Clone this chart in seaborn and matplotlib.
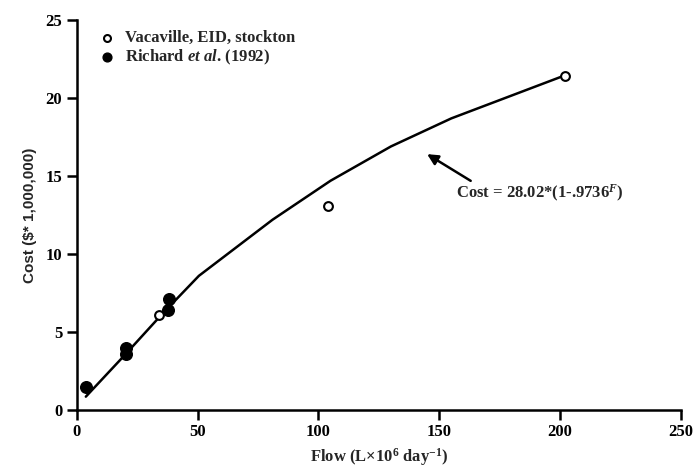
import numpy as np
import pandas as pd
import matplotlib
matplotlib.use("Agg")
import matplotlib.pyplot as plt
import seaborn as sns

# Data
vaca_flow = [34, 104, 202]
vaca_cost = [6.1, 13.1, 21.4]

richard_flow = [3.8, 20.5, 20.3, 37.8, 38.1]
richard_cost = [1.45, 4.0, 3.6, 6.4, 7.1]

# fitted curve
fit_flow = [3.7, 20, 35, 50.5, 81, 105, 130, 155, 201]
fit_cost = [0.85, 3.55, 6.1, 8.6, 12.2, 14.7, 16.9, 18.7, 21.4]

x_ticks = [0, 50, 100, 150, 200, 250]
y_ticks = [0, 5, 10, 15, 20, 25]

sns.set_style("ticks")
plt.rcParams['font.family'] = ['Liberation Serif', 'DejaVu Serif']
plt.rcParams['mathtext.fontset'] = 'custom'
plt.rcParams['mathtext.rm'] = 'Liberation Serif:bold'
plt.rcParams['mathtext.it'] = 'Liberation Serif:italic:bold'
plt.rcParams['mathtext.bf'] = 'Liberation Serif:bold'

fig = plt.figure(figsize=(6.99, 4.69), dpi=100)
ax = fig.add_axes([0.110, 0.126, 0.864, 0.831])

fit_df = pd.DataFrame({"flow": fit_flow, "cost": fit_cost})
sns.lineplot(data=fit_df, x="flow", y="cost", sort=False, color="black",
             linewidth=1.8, ax=ax)

sns.scatterplot(x=richard_flow, y=richard_cost, color="black", s=70,
                edgecolor="black", linewidth=1, ax=ax, zorder=3)
sns.scatterplot(x=vaca_flow, y=vaca_cost, facecolor="white", s=40,
                edgecolor="black", linewidth=1.5, ax=ax, zorder=4)

ax.set_xlim(0, 250)
ax.set_ylim(0, 25)
ax.set_xticks(x_ticks)
ax.set_yticks(y_ticks)
ax.tick_params(axis="both", direction="out", length=7, width=1.8,
               labelsize=12, colors="black")
for lab in ax.get_xticklabels() + ax.get_yticklabels():
    lab.set_fontweight("bold")
for side in ["top", "right"]:
    ax.spines[side].set_visible(False)
for side in ["left", "bottom"]:
    ax.spines[side].set_linewidth(1.8)
    ax.spines[side].set_color("black")

ax.set_xlabel(r"Flow (L$\times$10$^6$ day$^{-1}$)", fontsize=12, fontweight="bold")
ax.set_ylabel("Cost ($* 1,000,000)", fontsize=11, fontweight="bold",
              family=["Liberation Sans", "DejaVu Sans"], labelpad=6)

# legend drawn as markers + text
h1 = ax.scatter([], [], facecolor="white", edgecolor="black", s=25, linewidth=1.5)
h2 = ax.scatter([], [], color="black", s=40)
leg = ax.legend([h1, h2], ["Vacaville, EID, stockton",
                           r"Richard $\mathit{et\ al}$. (1992)"],
                loc="upper left", bbox_to_anchor=(0.005, 1.0), frameon=False,
                handletextpad=0.1, borderaxespad=0.2, labelspacing=0.1,
                prop={"size": 12, "weight": "bold"})

ax.annotate("", xy=(144, 16.5), xytext=(164, 14.6),
            arrowprops=dict(arrowstyle="-|>", color="black", lw=1.8,
                            mutation_scale=16))
ax.text(191.5, 13.9, r"Cost = 28.02*(1-.9736$^F$)", ha="center", va="center",
        fontsize=12, fontweight="bold")

fig.savefig("out.png", dpi=100)
